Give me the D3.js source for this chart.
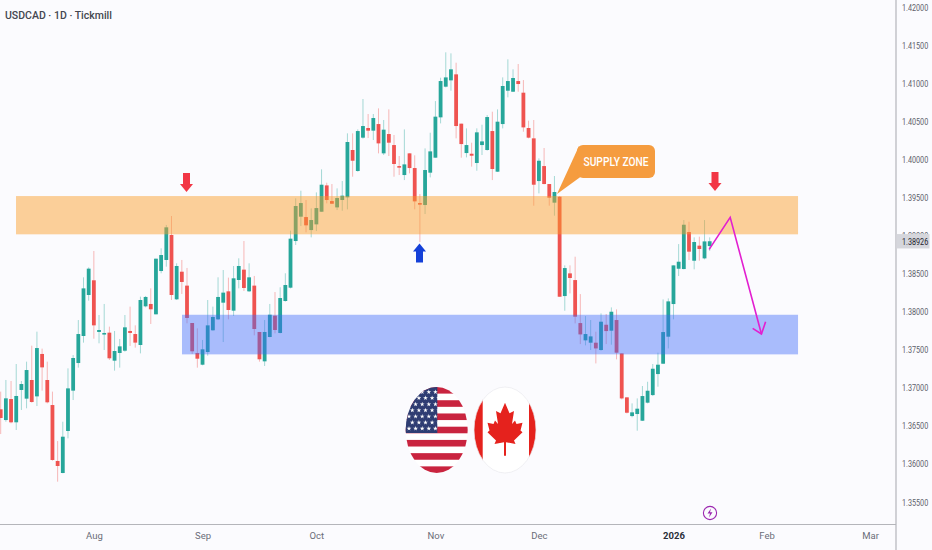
<!DOCTYPE html>
<html>
<head>
<meta charset="utf-8">
<script src="https://cdn.jsdelivr.net/npm/d3@7"></script>
<style>
  html, body { margin: 0; padding: 0; background: #fbfbfe; }
  svg { display: block; }
  text { font-family: Roboto, "Noto Sans", sans-serif; }
</style>
</head>
<body>
<svg id="chart" width="932" height="550"></svg>
<script>
const title = 'USDCAD · 1D · Tickmill';

const opens = [
  1.36718,1.36577,1.36853,1.36547,1.36972,1.36858,1.37103,1.36888,1.37445,1.37103,
  1.36774,1.36039,1.35881,1.36433,1.36963,1.37326,1.37681,1.38220,1.38413,1.37734,
  1.37707,1.37725,1.37357,1.37458,1.37488,1.37747,1.37707,1.37563,1.38071,1.38102,
  1.37966,1.38535,1.38680,1.39008,1.38163,1.38526,1.38343,1.37852,1.37458,1.37304,
  1.37471,1.37756,1.37900,1.38119,1.38268,1.38014,1.38417,1.38553,1.38268,1.38343,
  1.37734,1.37348,1.37668,1.37948,1.37721,1.38141,1.38316,1.38929,1.39249,1.39244,
  1.39073,1.39148,1.39314,1.39660,1.39454,1.39371,1.39468,1.39503,1.40125,1.39849,
  1.40287,1.40414,1.40379,1.40466,1.40081,1.40335,1.40190,1.39914,1.39796,1.40081,
  1.39888,1.39428,1.39402,1.39827,1.40024,1.40554,1.40957,1.41040,1.41119,1.40471,
  1.40085,1.40076,1.39954,1.40190,1.40125,1.40374,1.39840,1.40466,1.40904,1.40891,
  1.41031,1.40878,1.40414,1.40278,1.39717,1.39914,1.39678,1.39433,1.39511,1.38206,
  1.38504,1.38416,1.37851,1.37624,1.37593,1.37593,1.37497,1.37829,1.37751,1.37891,
  1.37453,1.36875,1.36629,1.36656,1.36568,1.36805,1.36905,1.37181,1.37317,1.37672,
  1.38101,1.38565,1.38561,1.39047,1.38670,1.38868,1.38701,1.38863
];
const closes = [
  1.36604,1.36862,1.36547,1.36893,1.37050,1.37234,1.36814,1.37523,1.37269,1.36810,
  1.36052,1.35973,1.36358,1.36993,1.37392,1.37707,1.38307,1.38566,1.37821,1.37760,
  1.37721,1.37388,1.37484,1.37545,1.37795,1.37721,1.37594,1.38154,1.38194,1.38032,
  1.38697,1.38745,1.39109,1.38220,1.38601,1.38391,1.37918,1.37480,1.37383,1.37506,
  1.37821,1.37931,1.38194,1.38251,1.38023,1.38439,1.38601,1.38312,1.38452,1.37773,
  1.37375,1.37734,1.37961,1.37760,1.38180,1.38351,1.38960,1.39389,1.39428,1.39135,
  1.39205,1.39362,1.39669,1.39468,1.39419,1.39494,1.39525,1.40230,1.39984,1.40374,
  1.40440,1.40379,1.40545,1.40212,1.40392,1.40221,1.39941,1.39897,1.39936,1.39888,
  1.39450,1.39415,1.39862,1.40107,1.40563,1.41031,1.41079,1.41185,1.40440,1.40203,
  1.40190,1.40050,1.40357,1.40238,1.40558,1.39875,1.40497,1.40966,1.41031,1.41071,
  1.40992,1.40422,1.40287,1.39669,1.39984,1.39678,1.39498,1.39573,1.38197,1.38574,
  1.38443,1.37935,1.37702,1.37707,1.37676,1.37518,1.37869,1.37746,1.38000,1.37462,
  1.36861,1.36673,1.36678,1.36726,1.36892,1.36962,1.37251,1.37304,1.37733,1.38136,
  1.38609,1.38657,1.39143,1.38789,1.38916,1.38824,1.38924,1.38926
];
const highs = [
  1.36950,1.37103,1.37090,1.37313,1.37090,1.37344,1.37554,1.37738,1.37515,1.37344,
  1.36950,1.36301,1.36555,1.37256,1.37431,1.37891,1.38452,1.38583,1.38798,1.37957,
  1.38102,1.37804,1.37747,1.37642,1.37957,1.38067,1.37821,1.38198,1.38207,1.38307,
  1.38697,1.38833,1.39140,1.39258,1.38636,1.38680,1.38575,1.37852,1.37782,1.37629,
  1.38154,1.38067,1.38452,1.38548,1.38448,1.38601,1.38702,1.38929,1.38636,1.38470,
  1.37734,1.37891,1.38102,1.38259,1.38321,1.38505,1.39065,1.39490,1.39590,1.39468,
  1.39358,1.39568,1.39871,1.39695,1.39678,1.39621,1.39717,1.40344,1.40344,1.40396,
  1.40795,1.40598,1.40598,1.40672,1.40519,1.40659,1.40322,1.40046,1.40396,1.40081,
  1.40055,1.39546,1.40146,1.40352,1.40768,1.41075,1.41408,1.41395,1.41272,1.40471,
  1.40409,1.40221,1.40409,1.40457,1.40584,1.40628,1.40659,1.41079,1.41316,1.41185,
  1.41255,1.41044,1.40510,1.40519,1.40015,1.40151,1.39678,1.39783,1.39520,1.38609,
  1.38609,1.38723,1.38232,1.37943,1.37891,1.37737,1.37978,1.37970,1.38057,1.38031,
  1.37453,1.36875,1.36796,1.36861,1.37024,1.37080,1.37313,1.37462,1.38162,1.38175,
  1.38609,1.38889,1.39205,1.39183,1.38977,1.38986,1.39205,1.38977
];
const lows = [
  1.36393,1.36555,1.36534,1.36446,1.36709,1.36731,1.36805,1.36761,1.36963,1.36796,
  1.36043,1.35767,1.35877,1.36336,1.36840,1.37265,1.37594,1.38145,1.37646,1.37585,
  1.37497,1.37366,1.37226,1.37265,1.37475,1.37550,1.37528,1.37453,1.38058,1.37839,
  1.37966,1.38505,1.38592,1.38154,1.38154,1.38233,1.37848,1.37445,1.37265,1.37296,
  1.37423,1.37751,1.37891,1.37602,1.37900,1.37944,1.38307,1.38272,1.38259,1.37690,
  1.37344,1.37287,1.37664,1.37716,1.37716,1.38132,1.38307,1.38877,1.39126,1.39043,
  1.38977,1.39060,1.39314,1.39424,1.39415,1.39336,1.39327,1.39345,1.39774,1.39840,
  1.40274,1.40282,1.40256,1.40081,1.40059,1.40046,1.39774,1.39796,1.39730,1.39818,
  1.39345,1.38916,1.39284,1.39765,1.40024,1.40475,1.40948,1.40904,1.40278,1.40024,
  1.40028,1.39906,1.39853,1.40059,1.40116,1.39730,1.39836,1.40409,1.40817,1.40887,
  1.40891,1.40365,1.40278,1.39393,1.39555,1.39674,1.39393,1.39262,1.38197,1.38013,
  1.38241,1.37847,1.37575,1.37558,1.37497,1.37321,1.37488,1.37575,1.37567,1.37374,
  1.36848,1.36664,1.36612,1.36437,1.36564,1.36796,1.36892,1.37015,1.37313,1.37518,
  1.37900,1.38469,1.38557,1.38679,1.38557,1.38670,1.38688,1.38800
];

const priceTicks = [1.355,1.36,1.365,1.37,1.375,1.38,1.385,1.39,1.395,1.40,1.405,1.41,1.415,1.42];
const monthLabels = ['Aug','Sep','Oct','Nov','Dec','2026','Feb','Mar'];
const monthBars = [18,39,61,84,104,130,148,168];
const lastPrice = 1.38926;

// zones as [first bar, last bar, top price, bottom price]
const supplyZone = [2.96, 154.07, 1.39520, 1.39017];
const demandZone = [35.03, 154.07, 1.37960, 1.37440];

// pink forecast path, bar index and price
const forecastBars = [136.9, 140.96, 147];
const forecastPrices = [1.38820, 1.39240, 1.37707];
const headBars = [145.3, 147, 147.8];
const headPrices = [1.37782, 1.37707, 1.37869];

const green = '#26a69a', red = '#ef5350';
const axisX = 896, axisY = 524.5;
const labelSqueeze = 0.76; // the price labels are drawn narrow

const svg = d3.select('#chart');
const x = d3.scaleLinear().domain([0, 137]).range([0.7, 709.7]);
const y = d3.scaleLinear().domain([1.42, 1.355]).range([7.3, 502]);

const line = d3.line().x(d => x(d[0])).y(d => y(d[1]));

// candles
const bars = d3.range(opens.length);
const candles = svg.append('g').selectAll('g').data(bars).join('g')
  .attr('fill', i => closes[i] >= opens[i] ? green : red)
  .attr('stroke', i => closes[i] >= opens[i] ? green : red);
candles.append('line')
  .attr('x1', i => x(i)).attr('x2', i => x(i))
  .attr('y1', i => y(highs[i])).attr('y2', i => y(lows[i]))
  .attr('stroke-width', 0.9).attr('stroke-opacity', 0.45);
candles.append('rect')
  .attr('stroke', 'none')
  .attr('x', i => x(i) - 1.9).attr('width', 3.8)
  .attr('y', i => y(Math.max(opens[i], closes[i])))
  .attr('height', i => Math.max(1.6, y(Math.min(opens[i], closes[i])) - y(Math.max(opens[i], closes[i]))));

// zones sit over the candles
function zone(z, color, op) {
  svg.append('rect')
    .attr('x', x(z[0])).attr('width', x(z[1]) - x(z[0]))
    .attr('y', y(z[2])).attr('height', y(z[3]) - y(z[2]))
    .attr('fill', color).attr('fill-opacity', op);
}
zone(supplyZone, '#fb9e28', 0.47);
zone(demandZone, '#3c69fb', 0.43);

// forecast
svg.append('path').datum(d3.zip(forecastBars, forecastPrices)).attr('d', line)
  .attr('fill', 'none').attr('stroke', '#e21fd0').attr('stroke-width', 1.6);
svg.append('path').datum(d3.zip(headBars, headPrices)).attr('d', line)
  .attr('fill', 'none').attr('stroke', '#e21fd0').attr('stroke-width', 1.6);

// block arrows
function blockArrow(cx, tip, dir, color) {
  const p = [[cx - 3.5, tip - dir * 19], [cx + 3.5, tip - dir * 19], [cx + 3.5, tip - dir * 8],
             [cx + 6.5, tip - dir * 8], [cx, tip], [cx - 6.5, tip - dir * 8], [cx - 3.5, tip - dir * 8]];
  svg.append('path').attr('d', d3.line()(p) + 'Z').attr('fill', color);
}
blockArrow(186.5, 192, 1, '#f23645');
blockArrow(715, 191, 1, '#f23645');
blockArrow(419.5, 243.5, -1, '#1440d8');

// callout
const callout = svg.append('g');
callout.append('path').attr('d', 'M590,170 L557,194 L579,146 Z').attr('fill', '#f59c3f');
callout.append('rect').attr('x', 577).attr('y', 145).attr('width', 78).attr('height', 33).attr('rx', 6)
  .attr('fill', '#f59c3f');
callout.append('text').attr('x', 616).attr('y', 166).attr('text-anchor', 'middle')
  .attr('textLength', 65).attr('lengthAdjust', 'spacingAndGlyphs')
  .attr('font-size', 13).attr('font-weight', 500).attr('fill', '#fff').text('SUPPLY ZONE');

// flags
const defs = svg.append('defs');
defs.append('clipPath').attr('id', 'usClip').append('ellipse')
  .attr('cx', 436.7).attr('cy', 430).attr('rx', 31).attr('ry', 43);
defs.append('clipPath').attr('id', 'caClip').append('ellipse')
  .attr('cx', 505).attr('cy', 430).attr('rx', 31).attr('ry', 43);

const us = svg.append('g').attr('clip-path', 'url(#usClip)');
us.append('rect').attr('x', 405).attr('y', 387).attr('width', 64).attr('height', 86).attr('fill', '#fff');
us.selectAll('rect.stripe').data(d3.range(7)).join('rect').attr('class', 'stripe')
  .attr('x', 405).attr('width', 64).attr('y', i => 387 + i * 13.23).attr('height', 6.6).attr('fill', '#c9243f');
us.append('rect').attr('x', 405).attr('y', 387).attr('width', 32.3).attr('height', 46).attr('fill', '#2f3d73');
const starRows = d3.range(7), starCols = d3.range(5);
us.selectAll('path').data(d3.cross(starRows, starCols)).join('path')
  .attr('d', d3.symbol(d3.symbolStar, 7))
  .attr('transform', d => `translate(${409 + d[1] * 6.6 + (d[0] % 2) * 3.3},${392 + d[0] * 6.1})`)
  .attr('fill', '#fff');

const ca = svg.append('g').attr('clip-path', 'url(#caClip)');
ca.append('rect').attr('x', 474).attr('y', 387).attr('width', 62).attr('height', 86).attr('fill', '#fff');
ca.append('rect').attr('x', 474).attr('y', 387).attr('width', 8.7).attr('height', 86).attr('fill', '#e5221d');
ca.append('rect').attr('x', 529).attr('y', 387).attr('width', 8).attr('height', 86).attr('fill', '#e5221d');
ca.append('path')
  .attr('d', 'M0,-24 L-4.5,-15 L-9,-17 L-7,-6 L-10,-9 L-11.5,-6 L-17.5,-7 L-15.5,-0.5 L-17.5,1 L-9,8 L-10.5,11 L-1,9.5 L-1,21 L1,21 L1,9.5 L10.5,11 L9,8 L17.5,1 L15.5,-0.5 L17.5,-7 L11.5,-6 L10,-9 L7,-6 L9,-17 L4.5,-15 Z')
  .attr('transform', 'translate(505,431) scale(1,1.18)').attr('fill', '#e5221d');
svg.append('ellipse').attr('cx', 505).attr('cy', 430).attr('rx', 31).attr('ry', 43)
  .attr('fill', 'none').attr('stroke', '#e9e9ee').attr('stroke-width', 0.7);

// lightning mark
svg.append('circle').attr('cx', 710).attr('cy', 513).attr('r', 6.6)
  .attr('fill', 'none').attr('stroke', '#9c27b0').attr('stroke-width', 1.1);
svg.append('path').attr('d', 'M711,508.5 L707.5,513.5 L710,513.5 L709,517.5 L712.5,512.3 L710,512.3 Z').attr('fill', '#9c27b0');

// axes
const yAxis = d3.axisRight(y).tickValues(priceTicks).tickFormat(d3.format('.5f')).tickSize(0).tickPadding(6);
const yG = svg.append('g').attr('transform', `translate(${axisX},0)`).call(yAxis);
yG.select('.domain').remove();
yG.selectAll('text').attr('font-size', 9.5).attr('fill', '#5d606b')
  .attr('x', 0).attr('transform', `translate(6,0) scale(${labelSqueeze},1)`)
  .style('font-family', 'Roboto, sans-serif');

const xAxis = d3.axisBottom(x).tickValues(monthBars).tickFormat((d, i) => monthLabels[i]).tickSize(0).tickPadding(8);
const xG = svg.append('g').attr('transform', `translate(0,${axisY})`).call(xAxis);
xG.select('.domain').remove();
xG.selectAll('text').attr('font-size', 9.5).attr('fill', d => d === 130 ? '#2a2e39' : '#6a6d78')
  .attr('font-weight', d => d === 130 ? 700 : 400).style('font-family', 'Roboto, sans-serif');

svg.append('line').attr('x1', axisX).attr('x2', axisX).attr('y1', 0).attr('y2', 550)
  .attr('stroke', '#b4b5ba').attr('stroke-width', 1.2);
svg.append('line').attr('x1', 0).attr('x2', axisX).attr('y1', axisY).attr('y2', axisY)
  .attr('stroke', '#b4b5ba').attr('stroke-width', 1.2);

// last price tag
svg.append('rect').attr('x', axisX + 0.5).attr('y', y(lastPrice) - 7.2).attr('width', 33).attr('height', 14.4)
  .attr('fill', '#d5d6dc');
svg.append('text').attr('transform', `translate(${axisX + 6},${y(lastPrice) + 3.4}) scale(${labelSqueeze},1)`)
  .attr('font-size', 9.5).attr('fill', '#1e222d').text(d3.format('.5f')(lastPrice));

svg.append('text').attr('x', 5).attr('y', 19).attr('font-size', 10.5).attr('font-weight', 500)
  .attr('fill', '#43464f').text(title);
</script>
</body>
</html>
